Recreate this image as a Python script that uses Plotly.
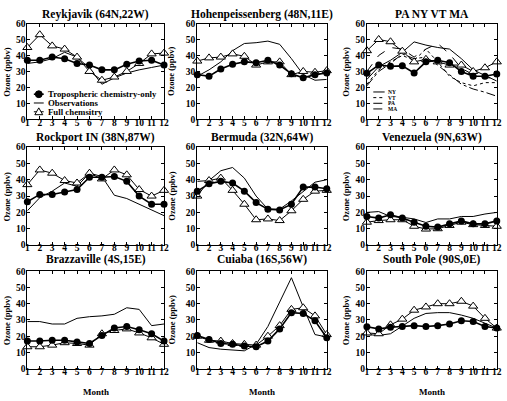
import plotly.graph_objects as go

months = list(range(1, 13))
y_ticks = [0, 10, 20, 30, 40, 50, 60]

panel_titles = ["Reykjavik (64N,22W)", "Hohenpeissenberg (48N,11E)", "PA NY VT MA",
                "Rockport IN (38N,87W)", "Bermuda (32N,64W)", "Venezuela (9N,63W)",
                "Brazzaville (4S,15E)", "Cuiaba (16S,56W)", "South Pole (90S,0E)"]

# Tropospheric chemistry-only (filled circles)
reyk_trop = [37, 37, 39, 38, 35, 34, 31, 31, 34.5, 36.5, 37, 34]
hohe_trop = [28, 27, 31.5, 34.5, 36, 35.5, 37, 34, 28.5, 26, 28, 29]
pa_trop = [28.8, 34, 33.3, 33.5, 29, 36, 37, 35.5, 30, 27, 27, 28.4]
rock_trop = [26.5, 31, 31, 32.5, 34, 41.5, 41.5, 42, 39, 30, 25, 25]
berm_trop = [33, 37.5, 39, 38, 33, 26, 22, 21.5, 25, 35.5, 35.5, 34.5]
vene_trop = [17.5, 16.5, 18.5, 16.5, 14, 11.5, 11, 13, 14.8, 13, 13, 14.8]
braz_trop = [17, 17, 17.5, 17.5, 16.5, 15.5, 20.5, 25, 26, 24, 21.5, 17]
cuia_trop = [20.5, 18, 15.5, 15, 14, 13.5, 17, 24.5, 34.5, 34, 29.5, 19]
sp_trop = [25.8, 24.5, 25.5, 26, 26.5, 26, 26.5, 27.5, 29.5, 29, 26, 25]

# Full chemistry (open triangles)
reyk_full = [45, 53, 46, 44, 39, 30, 24.5, 26.5, 30, 35, 41, 41.5]
hohe_full = [36.5, 38.5, 39, 41, 39.5, 34, 36, 36, 28, 30, 29.5, 30.5]
pa_full = [43, 50, 48.6, 42.7, 36, 37.6, 36, 34, 34, 30, 32.3, 36]
rock_full = [37, 46, 44, 39.5, 38, 44, 40.5, 46, 43, 34, 30, 33.5]
berm_full = [30, 39.5, 41, 33.5, 25, 15.5, 16, 15, 21, 28, 33, 33.5]
vene_full = [14, 15, 15.5, 15.5, 11.5, 9.8, 10, 12, 14, 12.5, 12, 11.5]
braz_full = [13.5, 13.5, 14.5, 16, 15.5, 14.5, 21.5, 23.5, 24.5, 22, 19, 15]
cuia_full = [20, 17.5, 17, 15.5, 15, 14.5, 20, 26.5, 36.5, 37.5, 32.5, 21]
sp_full = [22, 21.5, 27, 30.5, 36, 38, 40, 40, 41.5, 38.5, 31, 25]

# Observations (thin solid line)
reyk_obs = [35, 36, 38, 42, 39, 32, 22, 26, 29, 31, 32.5, 34]
hohe_obs = [27, 31, 36, 43, 47.5, 48, 49, 47, 38, 28, 24.5, 25]
rock_obs = [21, 29, 33, 38, 36, 44, 42, 30.5, 28.5, 25, 21, 18]
berm_obs = [39, 39.5, 45.5, 47.5, 41, 30, 22, 22, 27, 33, 38.5, 40]
vene_obs = [20, 20.5, 17.5, 17, 16, 13.8, 16, 16, 17.5, 17.5, 19, 20]
braz_obs = [29, 29, 27.5, 27.5, 31, 32, 32.5, 33.5, 37.5, 36.5, 26.5, 27.5]
cuia_obs = [16, 13, 12, 11.5, 11, 15, 26, 41, 56, 38, 21, 19.5]
sp_obs = [21, 20.5, 21.5, 26, 31, 34, 34.5, 34.5, 33, 31, 28, 25]

# Northeast US state observations
ny_obs = [25, 33, 37, 42, 48.5, 46.5, 45, 44, 38, 31, 27.5, 24]
vt_obs = [22, 31, 36, 40, 37, 44, 36, 27, 23, 21, 23, 23]
pa_obs = [30, 40, 45, 44, 39, 44, 47.5, 41, 32, 28, 26, 26]
ma_obs = [21, 30, 35, 41, 38, 39, 34, 28, 22, 19, 17, 14.5]
state_names = ["NY", "VT", "PA", "MA"]
state_dashes = ["solid", "dot", "dash", "dashdot"]

legend_labels = ["Tropospheric chemistry-only", "Observations", "Full chemsitry"]

FONT = "Liberation Serif"
W, H = 507, 401

trop_list = [reyk_trop, hohe_trop, pa_trop, rock_trop, berm_trop, vene_trop, braz_trop, cuia_trop, sp_trop]
full_list = [reyk_full, hohe_full, pa_full, rock_full, berm_full, vene_full, braz_full, cuia_full, sp_full]
obs_list = [reyk_obs, hohe_obs, None, rock_obs, berm_obs, vene_obs, braz_obs, cuia_obs, sp_obs]
state_list = [ny_obs, vt_obs, pa_obs, ma_obs]

# layout in pixels
col_px = [(25.7, 164.3), (198, 329.3), (370, 501.7)]
row_px = [(19, 117.3), (145.7, 246.2), (273, 373)]
title_y_px = [9.5, 135.5, 260.5]
ytitle_x_px = [5.5, 172, 349]

fig = go.Figure()

for i in range(9):
    r, c = divmod(i, 3)
    n = i + 1
    xa = "x" if n == 1 else f"x{n}"
    ya = "y" if n == 1 else f"y{n}"
    if obs_list[i] is not None:
        fig.add_trace(go.Scatter(x=months, y=obs_list[i], mode="lines", xaxis=xa, yaxis=ya,
                                 line=dict(color="black", width=1), showlegend=False, cliponaxis=False))
    else:
        for s, d in zip(state_list, state_dashes):
            fig.add_trace(go.Scatter(x=months, y=s, mode="lines", xaxis=xa, yaxis=ya,
                                     line=dict(color="black", width=1, dash=d), showlegend=False))
    fig.add_trace(go.Scatter(x=months, y=full_list[i], mode="lines+markers", xaxis=xa, yaxis=ya,
                             line=dict(color="black", width=1),
                             marker=dict(symbol="triangle-up", size=8, color="white",
                                         line=dict(color="black", width=1)),
                             showlegend=False, cliponaxis=False))
    fig.add_trace(go.Scatter(x=months, y=trop_list[i], mode="lines+markers", xaxis=xa, yaxis=ya,
                             line=dict(color="black", width=1.6),
                             marker=dict(symbol="circle", size=7, color="black"),
                             showlegend=False, cliponaxis=False))

    x0, x1 = col_px[c]
    y0, y1 = row_px[r]
    ax_common = dict(showline=True, linecolor="black", linewidth=1, mirror="allticks",
                     ticks="inside", ticklen=3, tickcolor="black", showgrid=False, zeroline=False,
                     tickfont=dict(family=FONT, size=9.5, color="black", weight="bold"))
    fig.layout[f"xaxis{'' if n == 1 else n}"] = dict(
        domain=[x0 / W, x1 / W], range=[1, 12], tickvals=months, anchor=ya,
        ticklabelstandoff=-6, **ax_common)
    fig.layout[f"yaxis{'' if n == 1 else n}"] = dict(
        domain=[1 - y1 / H, 1 - y0 / H], range=[0, 60], tickvals=y_ticks, anchor=xa,
        ticklabelstandoff=-1, **ax_common)

    fig.add_annotation(text=f"<b>{panel_titles[i]}</b>", xref="paper", yref="paper",
                       x=(x0 + x1) / 2 / W, y=1 - title_y_px[r] / H, showarrow=False,
                       font=dict(family=FONT, size=11.5, color="black"), xanchor="center", yanchor="middle")
    fig.add_annotation(text="<b>Ozone (ppbv)</b>", xref="paper", yref="paper",
                       x=ytitle_x_px[c] / W, y=1 - (y0 + y1) / 2 / H, showarrow=False, textangle=-90,
                       font=dict(family=FONT, size=8.5, color="black"), xanchor="center", yanchor="middle")
    if r == 2:
        fig.add_annotation(text="<b>Month</b>", xref="paper", yref="paper",
                           x=(x0 + x1) / 2 / W, y=1 - 396.5 / H, showarrow=False,
                           font=dict(family=FONT, size=9, color="black"), xanchor="center", yanchor="middle")

# Legend for panel 1 (drawn manually for compact spacing)
leg_rows = [91.5, 100.5, 109.5]
lx0, lx1, ltx = 32.3, 42.3, 45
for k, (lab, yp) in enumerate(zip(legend_labels, leg_rows)):
    yy = 1 - yp / H
    fig.add_shape(type="line", xref="paper", yref="paper", x0=lx0 / W, x1=lx1 / W, y0=yy, y1=yy,
                  line=dict(color="black", width=1.6 if k == 0 else 1))
    cx = (lx0 + lx1) / 2
    if k == 0:
        fig.add_shape(type="circle", xref="paper", yref="paper", x0=(cx - 3.5) / W, x1=(cx + 3.5) / W,
                      y0=1 - (yp + 3.5) / H, y1=1 - (yp - 3.5) / H,
                      fillcolor="black", line=dict(color="black", width=1))
    elif k == 2:
        path = (f"M {(cx - 4) / W},{1 - (yp + 3) / H} L {(cx + 4) / W},{1 - (yp + 3) / H} "
                f"L {cx / W},{1 - (yp - 4) / H} Z")
        fig.add_shape(type="path", xref="paper", yref="paper", path=path,
                      fillcolor="white", line=dict(color="black", width=1))
    fig.add_annotation(text=f"<b>{lab}</b>", xref="paper", yref="paper", x=ltx / W, y=yy,
                       showarrow=False, xanchor="left", yanchor="middle",
                       font=dict(family=FONT, size=8.8, color="black"))

# Legend for panel 3 (state observations)
st_rows = [89.2, 95.0, 100.8, 106.6]
for name, d, yp in zip(state_names, state_dashes, st_rows):
    yy = 1 - yp / H
    fig.add_shape(type="line", xref="paper", yref="paper", x0=376.5 / W, x1=388 / W, y0=yy, y1=yy,
                  line=dict(color="black", width=1, dash=d))
    fig.add_annotation(text=f"<b>{name}</b>", xref="paper", yref="paper", x=389.5 / W, y=yy,
                       showarrow=False, xanchor="left", yanchor="middle",
                       font=dict(family=FONT, size=5.5, color="black"))

fig.update_layout(width=W, height=H, margin=dict(l=0, r=0, t=0, b=0),
                  paper_bgcolor="white", plot_bgcolor="white", showlegend=False)

fig.write_html("out.html")
